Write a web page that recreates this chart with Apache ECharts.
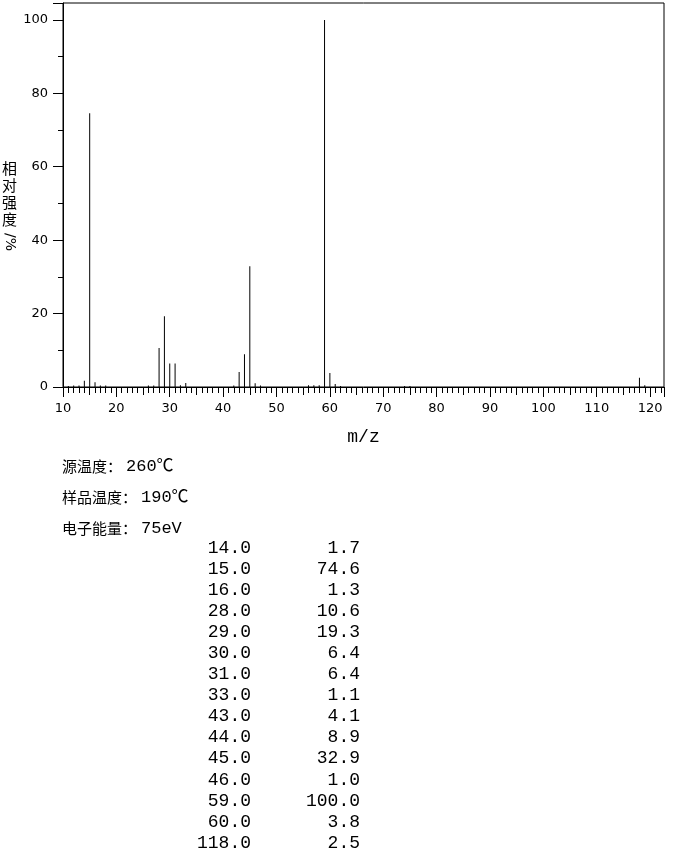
<!DOCTYPE html>
<html>
<head>
<meta charset="utf-8">
<script src="https://cdn.jsdelivr.net/npm/echarts@6/dist/echarts.min.js"></script>
<style>
  html, body { margin: 0; padding: 0; background: #fff; }
  #chart { width: 680px; height: 850px; }
</style>
</head>
<body>
<div id="chart"></div>
<script>
// 质谱峰表（m/z, 相对强度）
const peakMz = [14, 15, 16, 28, 29, 30, 31, 33, 43, 44, 45, 46, 59, 60, 118]
const peakIntensity = [1.7, 74.6, 1.3, 10.6, 19.3, 6.4, 6.4, 1.1, 4.1, 8.9, 32.9, 1.0, 100.0, 3.8, 2.5]

// 小于 1% 的杂峰
const minorMz = [11, 12, 13, 17, 18, 26, 27, 32, 42, 47, 56, 57, 58, 61, 62, 74, 75, 119]
const minorIntensity = [0.3, 0.4, 0.4, 0.4, 0.4, 0.4, 0.4, 0.5, 0.4, 0.4, 0.5, 0.5, 0.5, 0.8, 0.3, 0.3, 0.3, 0.5]

// 实验条件
const infoLabels = ['源温度：', '样品温度：', '电子能量：']
const infoValues = ['260℃', '190℃', '75eV']

const barData = []
peakMz.forEach((m, i) => barData.push([m, peakIntensity[i]]))
minorMz.forEach((m, i) => barData.push([m, minorIntensity[i]]))

const labelFont = 'DejaVu Sans'
const cjkFont = 'Noto Sans CJK SC'
const monoFont = 'Liberation Mono'

const graphics = [
  { // 纵轴标题
    type: 'text', left: 2, top: 160,
    style: { text: '相\n对\n强\n度', font: '15px ' + cjkFont, fill: '#000', lineHeight: 17 }
  },
  {
    type: 'text', x: 17, y: 233, rotation: -Math.PI / 2,
    style: { text: '/%', font: '14px ' + labelFont, fill: '#000', textAlign: 'left', textVerticalAlign: 'top' }
  }
]

infoLabels.forEach((t, i) => {
  graphics.push({
    type: 'text', x: 62, y: 466 + i * 31,
    style: {
      text: '{c|' + t + '}{n|' + infoValues[i] + '}',
      textVerticalAlign: 'middle',
      rich: {
        c: { fontFamily: cjkFont, fontSize: 15, fill: '#000' },
        n: { fontFamily: monoFont + ', ' + cjkFont, fontSize: 17, fill: '#000', padding: [0, 0, 0, 4] }
      }
    }
  })
})

// 峰表
peakMz.forEach((m, i) => {
  const y = 548 + i * 21.07
  graphics.push({
    type: 'text', x: 251, y: y,
    style: { text: m.toFixed(1), font: '18px ' + monoFont, fill: '#000', textAlign: 'right', textVerticalAlign: 'middle' }
  })
  graphics.push({
    type: 'text', x: 360, y: y,
    style: { text: peakIntensity[i].toFixed(1), font: '18px ' + monoFont, fill: '#000', textAlign: 'right', textVerticalAlign: 'middle' }
  })
})

const chart = echarts.init(document.getElementById('chart'))
chart.setOption({
  animation: false,
  backgroundColor: '#fff',
  grid: {
    left: 63,
    top: 3,
    right: 16,
    bottom: 463,
    show: true,
    borderColor: '#000',
    borderWidth: 1
  },
  xAxis: [{
    type: 'value',
    min: 10,
    max: 122.6,
    interval: 10,
    position: 'bottom',
    name: 'm/z',
    nameLocation: 'middle',
    nameGap: 41,
    nameTextStyle: { color: '#000', fontSize: 18, fontFamily: monoFont },
    axisLine: { lineStyle: { color: '#000', width: 1 } },
    axisTick: { length: 10, lineStyle: { color: '#000' } },
    minorTick: { show: true, splitNumber: 10, length: 6, lineStyle: { color: '#000' } },
    axisLabel: { color: '#000', fontSize: 13, fontFamily: labelFont, margin: 15, showMaxLabel: false },
    splitLine: { show: false }
  }, {
    // 每 5 个单位的中等刻度
    type: 'value',
    min: 10,
    max: 122.6,
    interval: 5,
    position: 'bottom',
    axisLine: { show: false },
    axisTick: { length: 8, lineStyle: { color: '#000' } },
    axisLabel: { show: false },
    splitLine: { show: false }
  }],
  yAxis: {
    type: 'value',
    min: 0,
    max: 104.6,
    interval: 20,
    axisLine: { show: true, lineStyle: { color: '#000', width: 1 } },
    axisTick: { show: true, length: 10, lineStyle: { color: '#000' } },
    minorTick: { show: true, splitNumber: 2, length: 5, lineStyle: { color: '#000' } },
    axisLabel: { color: '#000', fontSize: 13, fontFamily: labelFont, margin: 15, showMaxLabel: false },
    splitLine: { show: false }
  },
  series: [{
    type: 'bar',
    xAxisIndex: 0,
    data: barData,
    barWidth: 1,
    itemStyle: { color: '#000' }
  }],
  graphic: graphics
})
</script>
</body>
</html>
